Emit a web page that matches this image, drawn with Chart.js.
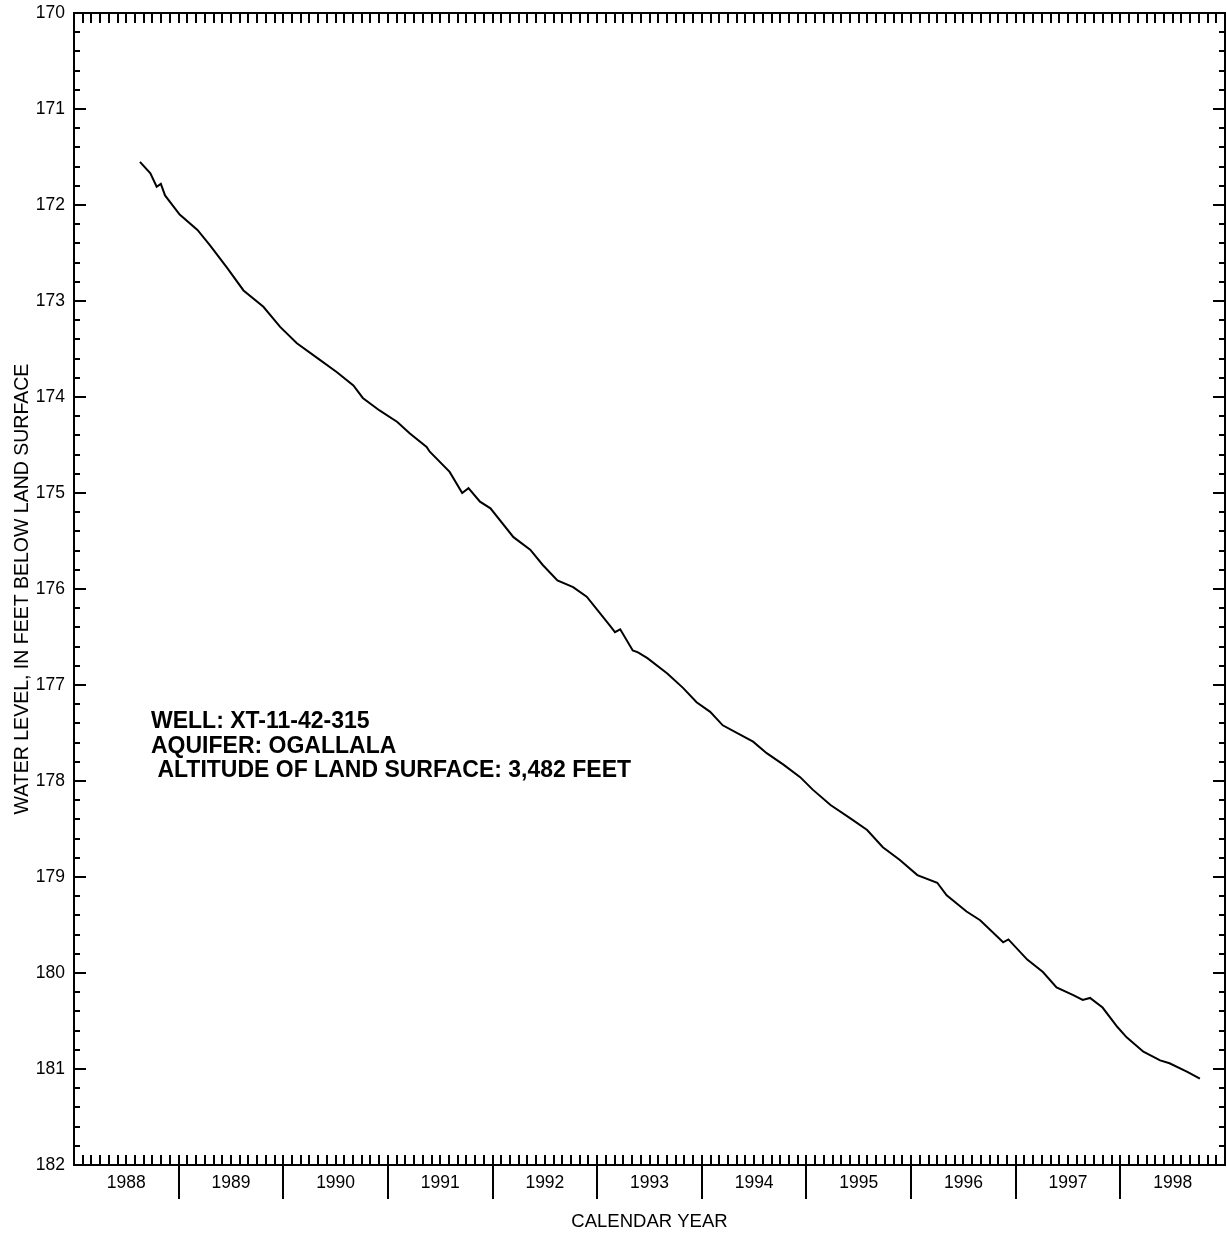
<!DOCTYPE html>
<html>
<head>
<meta charset="utf-8">
<script src="https://cdn.jsdelivr.net/npm/chart.js@4.4.1/dist/chart.umd.min.js"></script>
<style>
  html, body { margin: 0; padding: 0; background: #fff; }
  canvas { display: block; }
</style>
</head>
<body>
<canvas id="chart" width="1227" height="1234"></canvas>
<script>
// decimal year of each reading
const years = [1988.63, 1988.73, 1988.79, 1988.83, 1988.87, 1989.01, 1989.18, 1989.30, 1989.46, 1989.62,
  1989.81, 1989.97, 1990.13, 1990.32, 1990.51, 1990.67, 1990.76, 1990.92, 1991.09, 1991.21,
  1991.37, 1991.40, 1991.59, 1991.71, 1991.77, 1991.88, 1991.98, 1992.20, 1992.36, 1992.48,
  1992.62, 1992.77, 1992.90, 1993.12, 1993.17, 1993.22, 1993.34, 1993.39, 1993.48, 1993.67,
  1993.82, 1993.95, 1994.08, 1994.20, 1994.37, 1994.49, 1994.62, 1994.78, 1994.94, 1995.06,
  1995.23, 1995.42, 1995.58, 1995.73, 1995.89, 1996.06, 1996.25, 1996.34, 1996.53, 1996.66,
  1996.88, 1996.93, 1997.11, 1997.26, 1997.39, 1997.55, 1997.64, 1997.71, 1997.83, 1997.97,
  1998.06, 1998.22, 1998.38, 1998.47, 1998.64, 1998.76];
// water level, feet below land surface
const levels = [171.55, 171.67, 171.81, 171.78, 171.90, 172.10, 172.26, 172.42, 172.65, 172.89,
  173.06, 173.27, 173.44, 173.59, 173.74, 173.88, 174.01, 174.14, 174.26, 174.38,
  174.52, 174.57, 174.78, 175.00, 174.95, 175.09, 175.16, 175.46, 175.59, 175.75,
  175.91, 175.98, 176.08, 176.38, 176.45, 176.42, 176.64, 176.66, 176.72, 176.88,
  177.03, 177.18, 177.28, 177.42, 177.52, 177.59, 177.71, 177.83, 177.96, 178.09,
  178.25, 178.39, 178.51, 178.69, 178.82, 178.98, 179.06, 179.19, 179.36, 179.45,
  179.68, 179.65, 179.86, 179.99, 180.15, 180.23, 180.28, 180.26, 180.36, 180.56,
  180.67, 180.82, 180.91, 180.94, 181.03, 181.10];
const yearLabels = [1988, 1989, 1990, 1991, 1992, 1993, 1994, 1995, 1996, 1997, 1998];
const levelTicks = [170, 171, 172, 173, 174, 175, 176, 177, 178, 179, 180, 181, 182];
const infoLines = ['WELL: XT-11-42-315', 'AQUIFER: OGALLALA', ' ALTITUDE OF LAND SURFACE: 3,482 FEET'];

const FONT = "'Liberation Sans', Arial, Helvetica, sans-serif";

// frame, inward ticks, year separators and the well info box
const framePlugin = {
  id: 'frame',
  afterDraw(chart) {
    const { ctx, chartArea: a, scales: { x, y } } = chart;
    ctx.save();
    ctx.strokeStyle = '#000';
    ctx.lineWidth = 2;
    ctx.lineCap = 'butt';
    ctx.beginPath();
    // monthly ticks top & bottom
    for (let yr = yearLabels[0]; yr < yearLabels[yearLabels.length - 1] + 1; yr++) {
      for (let m = 0; m < 12; m++) {
        const px = Math.round(x.getPixelForValue(yr + m / 12));
        if (px <= a.left + 1) continue;
        ctx.moveTo(px, a.bottom); ctx.lineTo(px, a.bottom - 10);
        ctx.moveTo(px, a.top); ctx.lineTo(px, a.top + 10);
      }
    }
    // year separators below the axis
    for (let yr = yearLabels[0] + 1; yr <= yearLabels[yearLabels.length - 1]; yr++) {
      const px = Math.round(x.getPixelForValue(yr));
      ctx.moveTo(px, a.bottom); ctx.lineTo(px, a.bottom + 34);
    }
    // level ticks left & right
    for (let v = levelTicks[0]; v <= levelTicks[levelTicks.length - 1] + 1e-6; v += 0.2) {
      const py = Math.round(y.getPixelForValue(v));
      const major = Math.abs(v - Math.round(v)) < 1e-6;
      const len = major ? 12 : 6;
      ctx.moveTo(a.left, py); ctx.lineTo(a.left + len, py);
      ctx.moveTo(a.right, py); ctx.lineTo(a.right - len, py);
    }
    ctx.stroke();
    ctx.strokeRect(a.left, a.top, a.right - a.left, a.bottom - a.top);

    ctx.fillStyle = '#000';
    ctx.font = 'bold 23px ' + FONT;
    ctx.textAlign = 'left';
    ctx.textBaseline = 'middle';
    infoLines.forEach((t, i) => ctx.fillText(t, 151, 722 + i * 24.5));
    ctx.restore();
  }
};

new Chart(document.getElementById('chart'), {
  type: 'line',
  data: {
    datasets: [{
      data: years.map((yr, i) => ({ x: yr, y: levels[i] })),
      borderColor: '#000',
      borderWidth: 2,
      pointRadius: 0,
      tension: 0,
      fill: false
    }]
  },
  options: {
    responsive: false,
    animation: false,
    devicePixelRatio: 1,
    layout: { padding: { top: 13, right: 2, left: 0, bottom: 0 } },
    plugins: { legend: { display: false }, tooltip: { enabled: false } },
    scales: {
      x: {
        type: 'linear',
        min: 1988, max: 1999,
        afterFit: s => { s.height = 69; s.paddingLeft = 0; s.paddingRight = 0; },
        afterBuildTicks: s => { s.ticks = yearLabels.map(v => ({ value: v + 0.5 })); },
        grid: { display: false, drawTicks: false },
        border: { display: false },
        ticks: {
          autoSkip: false, maxRotation: 0, padding: 8,
          color: '#000', font: { family: FONT, size: 17.5 },
          callback: v => String(Math.floor(v))
        },
        title: {
          display: true, text: 'CALENDAR YEAR', color: '#000',
          font: { family: FONT, size: 18.5 }, padding: { top: 0, bottom: 1 }
        }
      },
      y: {
        type: 'linear',
        reverse: true,
        min: 170, max: 182,
        afterFit: s => { s.width = 74; s.paddingTop = 0; s.paddingBottom = 0; },
        afterBuildTicks: s => { s.ticks = levelTicks.map(v => ({ value: v })); },
        grid: { display: false, drawTicks: false },
        border: { display: false },
        ticks: {
          padding: 9, color: '#000', font: { family: FONT, size: 17.5 },
          callback: v => String(v)
        },
        title: {
          display: true, text: 'WATER LEVEL, IN FEET BELOW LAND SURFACE', color: '#000',
          font: { family: FONT, size: 19.5 }, padding: { top: 11, bottom: 0 }
        }
      }
    }
  },
  plugins: [framePlugin]
});
</script>
</body>
</html>
